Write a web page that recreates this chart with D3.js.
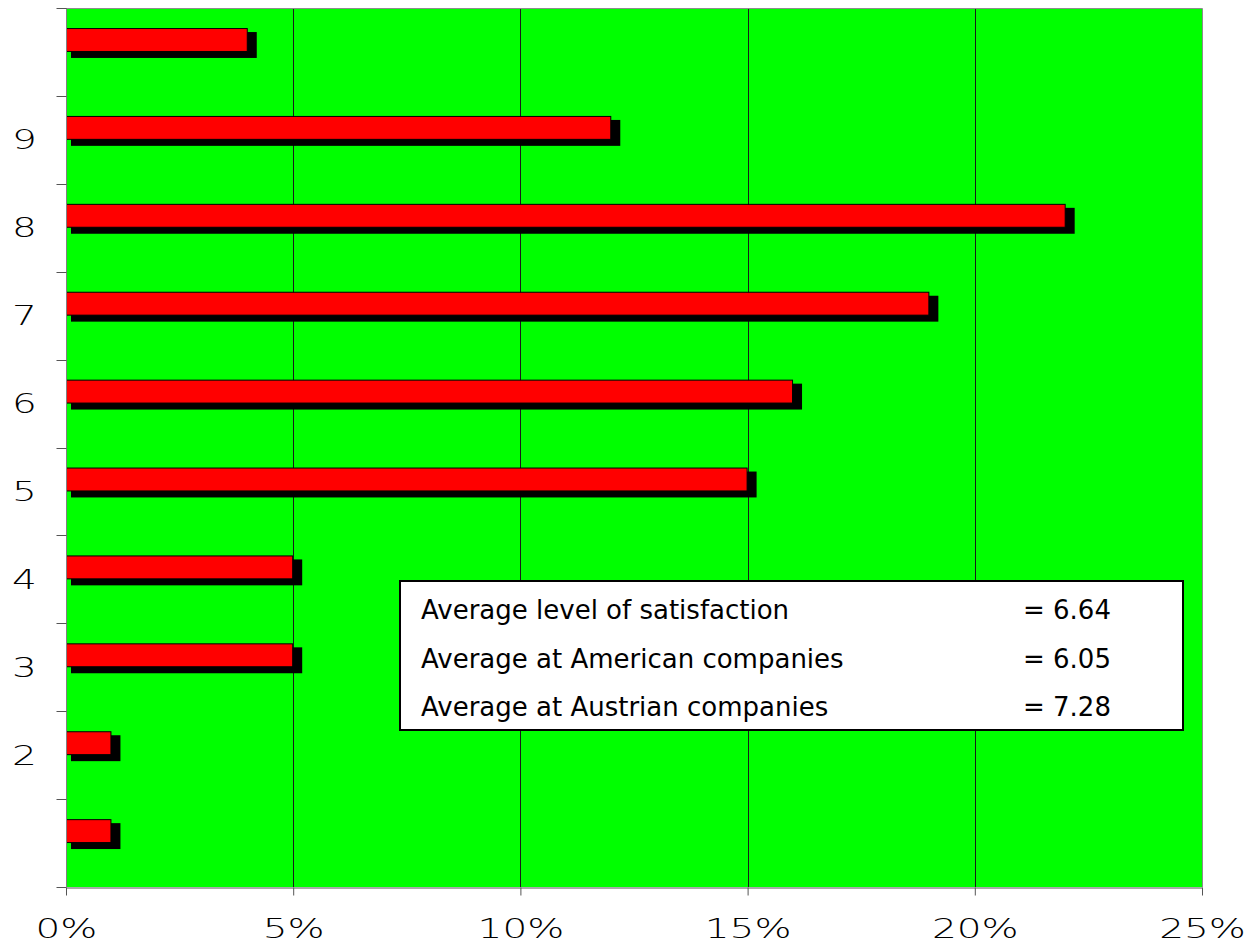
<!DOCTYPE html>
<html>
<head>
<meta charset="utf-8">
<script src="https://cdn.jsdelivr.net/npm/d3@7"></script>
<style>
  html, body { margin: 0; padding: 0; background: #ffffff; }
  svg { display: block; font-family: "DejaVu Sans", Verdana, sans-serif; }
</style>
</head>
<body>
<svg id="chart" width="1258" height="943"></svg>
<script>
// Satisfaction level (10 = highest at the top) and share of respondents in %
const categories = ["10", "9", "8", "7", "6", "5", "4", "3", "2", "1"];
const categoryLabels = ["", "9", "8", "7", "6", "5", "4", "3", "2", ""];
const shares = [4, 12, 22, 19, 16, 15, 5, 5, 1, 1];
const xTicks = [0, 5, 10, 15, 20, 25];
const noteLabels = ["Average level of satisfaction", "Average at American companies", "Average at Austrian companies"];
const noteValues = ["6.64", "6.05", "7.28"];

const svg = d3.select("#chart");
const plot = { left: 66, top: 8, right: 1202, bottom: 887 };

const x = d3.scaleLinear().domain([0, 25]).range([plot.left, plot.right]);
const y = d3.scaleBand().domain(categories).range([plot.top, plot.bottom]).paddingInner(0).paddingOuter(0);

// plot background
svg.append("rect")
  .attr("x", plot.left).attr("y", plot.top)
  .attr("width", plot.right - plot.left).attr("height", plot.bottom - plot.top)
  .attr("fill", "#00ff00");

// vertical gridlines
svg.append("g").selectAll("line")
  .data(xTicks.filter(t => t > 0 && t < 25))
  .join("line")
  .attr("x1", d => Math.round(x(d)) + 0.5).attr("x2", d => Math.round(x(d)) + 0.5)
  .attr("y1", plot.top).attr("y2", plot.bottom)
  .attr("stroke", "#1a1a1a").attr("stroke-width", 1);

// plot frame (top / right)
svg.append("path")
  .attr("d", `M${plot.left},${plot.top + 0.5}H${plot.right + 0.5}V${plot.bottom}`)
  .attr("fill", "none").attr("stroke", "#8c8c8c").attr("stroke-width", 1);

// bars with drop shadow
const bw = y.bandwidth();
const barOffset = bw * 0.228;
const barHeight = bw * 0.272;
const bars = svg.append("g");
categories.forEach((c, i) => {
  const x0 = x(0), x1 = x(shares[i]);
  const y0 = y(c) + barOffset;
  bars.append("rect")
    .attr("x", x0 + 5).attr("y", y0 + 4)
    .attr("width", x1 - x0 + 4).attr("height", barHeight + 2)
    .attr("fill", "#000000");
  bars.append("rect")
    .attr("x", x0 + 0.5).attr("y", y0 + 0.5)
    .attr("width", x1 - x0 - 1).attr("height", barHeight - 1)
    .attr("fill", "#ff0000").attr("stroke", "#000000").attr("stroke-width", 1);
});

const tickFont = "'DejaVu Sans', Verdana, sans-serif";

// y axis
const yAxis = d3.axisLeft(y)
  .tickValues(categories)
  .tickFormat((d, i) => categoryLabels[i])
  .tickSize(10)
  .tickSizeOuter(10);
const yg = svg.append("g")
  .attr("transform", `translate(${plot.left + 0.5},0)`)
  .call(yAxis);
// ticks on band boundaries
yg.selectAll(".tick line").remove();
yg.append("g").selectAll("line")
  .data(d3.range(categories.length + 1))
  .join("line")
  .attr("x1", -10).attr("x2", 0)
  .attr("y1", i => Math.round(plot.top + i * bw) + 0.5)
  .attr("y2", i => Math.round(plot.top + i * bw) + 0.5)
  .attr("stroke", "#555555");
yg.select(".domain").attr("stroke", "#808080").attr("d", `M0,${plot.top}V${plot.bottom}`);
yg.selectAll(".tick text")
  .attr("x", 0)
  .attr("dy", "0.36em")
  .attr("text-anchor", "middle")
  .attr("transform", "translate(-42,0) scale(1.5,1)")
  .attr("fill", "#000000")
  .style("font-size", "26px")
  .style("font-weight", "200")
  .style("font-family", tickFont);

// x axis
const xAxis = d3.axisBottom(x)
  .tickValues(xTicks)
  .tickFormat(d => d + "%")
  .tickSize(8)
  .tickSizeOuter(0);
const xg = svg.append("g")
  .attr("transform", `translate(0,${plot.bottom + 0.5})`)
  .call(xAxis);
xg.select(".domain").attr("stroke", "#555555");
xg.selectAll(".tick line").attr("stroke", "#555555");
xg.selectAll(".tick text")
  .attr("y", 32)
  .attr("dy", "0.71em")
  .attr("transform", "scale(1.5,1)")
  .attr("fill", "#000000")
  .style("font-size", "26px")
  .style("font-weight", "200")
  .style("font-family", tickFont);

// averages box
const box = { x: 400, y: 581, w: 783, h: 149 };
const note = svg.append("g");
note.append("rect")
  .attr("x", box.x).attr("y", box.y).attr("width", box.w).attr("height", box.h)
  .attr("fill", "#ffffff").attr("stroke", "#000000").attr("stroke-width", 2);
noteLabels.forEach((label, i) => {
  const baseline = 619 + i * 48.5;
  note.append("text")
    .attr("x", 421).attr("y", baseline)
    .attr("font-size", 26).attr("fill", "#000000")
    .text(label);
  note.append("text")
    .attr("x", 1023).attr("y", baseline)
    .attr("font-size", 26).attr("fill", "#000000")
    .text("=\u00a0" + noteValues[i]);
});
</script>
</body>
</html>
